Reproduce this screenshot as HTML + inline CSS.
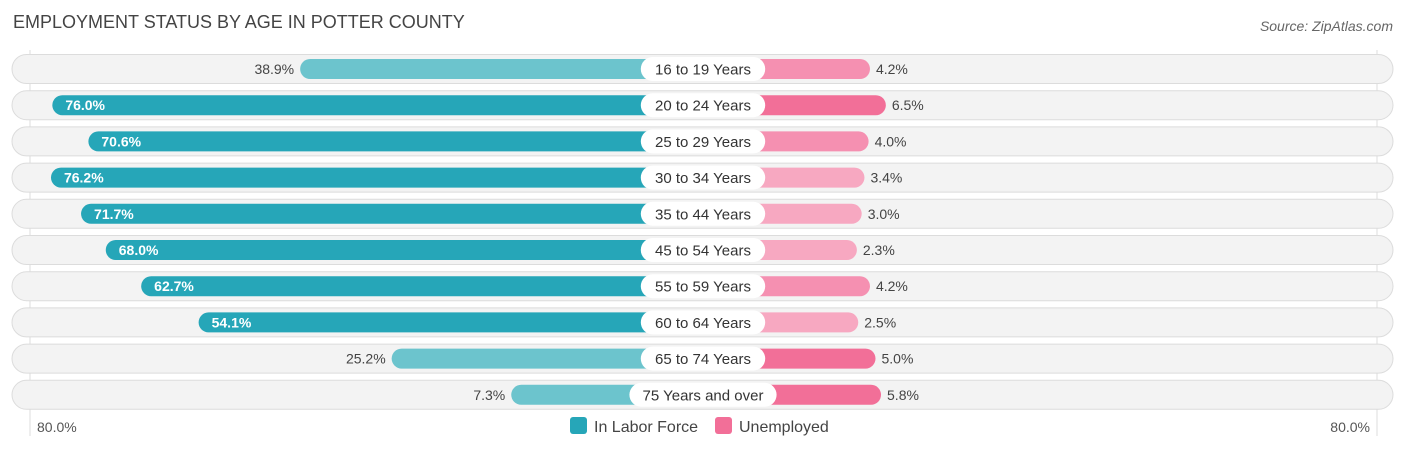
<!DOCTYPE html>
<html><head><meta charset="utf-8"><style>
body{margin:0;background:#fff;font-family:"Liberation Sans",sans-serif;}
</style></head><body>
<svg id="c" width="1406" height="451" xmlns="http://www.w3.org/2000/svg">
<text x="13" y="28" font-size="18" fill="#444">EMPLOYMENT STATUS BY AGE IN POTTER COUNTY</text>
<text x="1393" y="31" font-size="14" fill="#666" font-style="italic" text-anchor="end">Source: ZipAtlas.com</text>
<line x1="30" y1="50" x2="30" y2="436" stroke="#ddd"/>
<line x1="1377" y1="50" x2="1377" y2="436" stroke="#ddd"/>
<g id="rows"></g>
<text x="37" y="432" font-size="14" fill="#555">80.0%</text>
<text x="1370" y="432" font-size="14" fill="#555" text-anchor="end">80.0%</text>
<g>
<rect x="570" y="417" width="17" height="17" rx="3" fill="#26a6b8"/>
<text x="594" y="432" font-size="16" fill="#444">In Labor Force</text>
<rect x="715" y="417" width="17" height="17" rx="3" fill="#f26f98"/>
<text x="739" y="432" font-size="16" fill="#444">Unemployed</text>
</g>
</svg>
<script>
const categories=["16 to 19 Years","20 to 24 Years","25 to 29 Years","30 to 34 Years","35 to 44 Years","45 to 54 Years","55 to 59 Years","60 to 64 Years","65 to 74 Years","75 Years and over"];
const laborForce=[38.9,76.0,70.6,76.2,71.7,68.0,62.7,54.1,25.2,7.3];
const unemployed=[4.2,6.5,4.0,3.4,3.0,2.3,4.2,2.5,5.0,5.8];
const NS="http://www.w3.org/2000/svg";
const g=document.getElementById('rows');
const cx=703;
function xL(v){return 560-v*6.68;}
function xR(v){return 841+v*6.9;}
function mk(t,a){const e=document.createElementNS(NS,t);for(const k in a)e.setAttribute(k,a[k]);g.appendChild(e);return e;}
categories.forEach((c,i)=>{
  const y=69+i*36.2;
  let e=mk('rect',{x:12,y:y-14.5,width:1381,height:29,rx:14.5,fill:'#f3f3f3',stroke:'#dcdcdc'});
  
  const lv=laborForce[i], uv=unemployed[i];
  const lx=xL(lv);
  const strong=lv>50;
  e=mk('rect',{x:lx,y:y-10,width:cx-lx,height:20,rx:10,fill:strong?'#26a6b8':'#6cc4cd'});
  
  const rx=xR(uv);
  const pc=uv>=5?'#f26f98':(uv>=4?'#f590b1':'#f7a8c1');
  e=mk('rect',{x:cx,y:y-10,width:rx-cx,height:20,rx:10,fill:pc});
  
  e=mk('text',{x:strong?lx+13:lx-6,y:y+5,'font-size':14,fill:strong?'#fff':'#444','text-anchor':strong?'start':'end','font-weight':strong?'bold':'normal'});
  e.textContent=lv.toFixed(1)+'%';
  
  e=mk('text',{x:rx+6,y:y+5,'font-size':14,fill:'#444'});
  e.textContent=uv.toFixed(1)+'%';
  
  const w=c.length*7.6+18;
  e=mk('rect',{x:cx-w/2,y:y-12,width:w,height:24,rx:12,fill:'#fff'});
  
  e=mk('text',{x:cx,y:y+5.5,'font-size':15,fill:'#333','text-anchor':'middle'});
  e.textContent=c;
  
});
</script>
</body></html>
